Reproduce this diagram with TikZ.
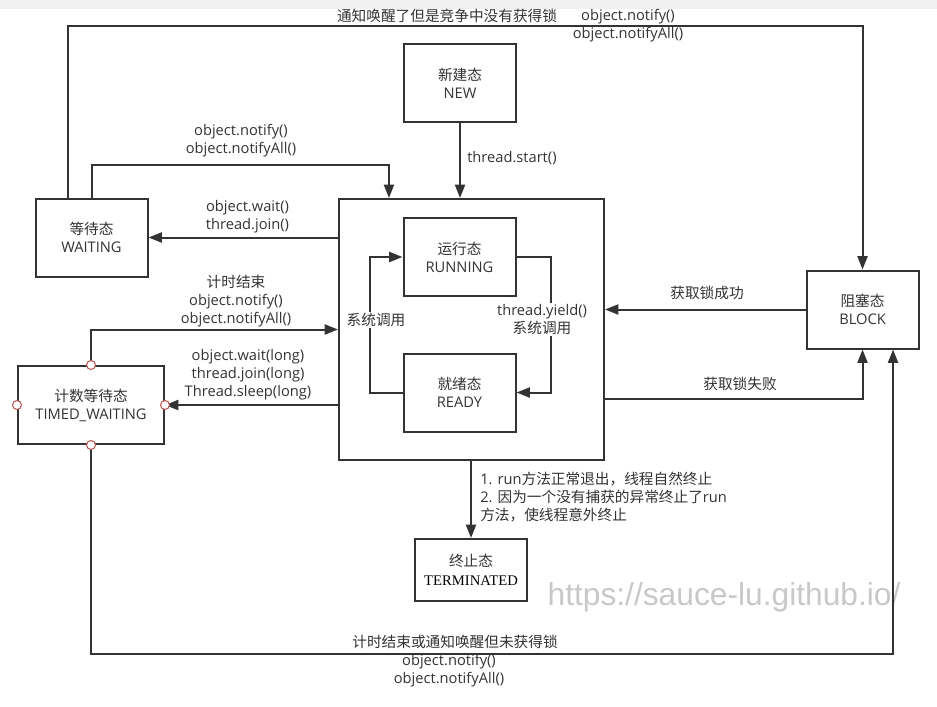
\documentclass[tikz,border=0pt]{standalone}
\usepackage{fontspec}
\setmainfont{Open Sans}
\newfontfamily\cjkfont{Noto Sans CJK SC}
\newfontfamily\termfont{Liberation Serif}
\newfontfamily\markfont{Liberation Sans}
\usetikzlibrary{arrows.meta}
\newcommand{\zh}[1]{{\cjkfont #1}}
\definecolor{linegray}{HTML}{333333}
\definecolor{textgray}{HTML}{333333}
\definecolor{portred}{HTML}{B85450}
\definecolor{bandgray}{HTML}{F0F0F0}
\definecolor{markgray}{HTML}{C8C8C8}
\tikzset{
  state/.style={draw=linegray, line width=1.5pt, fill=white, align=center,
    text=textgray, minimum width=84pt, minimum height=58.5pt, inner sep=0pt,
    font=\fontsize{11}{13.5}\selectfont},
  flow/.style={draw=linegray, line width=1.5pt, -{Triangle[length=10pt,width=7.5pt]}},
  lbl/.style={text=textgray, align=center, inner sep=0pt,
    font=\fontsize{11}{13.5}\selectfont},
  port/.style={circle, draw=portred, fill=white, line width=0.75pt,
    minimum size=6.75pt, inner sep=0pt},
}

\begin{document}
\begin{tikzpicture}[x=0.75pt,y=-0.75pt]
    \useasboundingbox (0,0) rectangle (937,706);
    \fill[bandgray] (0,0) rectangle (937,9);

    \node[state, minimum width=198.75pt, minimum height=195.75pt] (runnable) at (471.5,329.5) {};
    \node[state] (new) at (460,83) {\zh{新建态}\\NEW};
    \node[state] (running) at (459.5,257) {\zh{运行态}\\RUNNING};
    \node[state] (ready) at (459.5,392.5) {\zh{就绪态}\\READY};
    \node[state] (waiting) at (91.5,237.5) {\zh{等待态}\\WAITING};
    \node[state, minimum width=109.5pt] (timed) at (91,405) {\zh{计数等待态}\\TIMED\_WAITING};
    \node[state] (block) at (862.5,309.5) {\zh{阻塞态}\\BLOCK};
    \node[state, minimum height=46.5pt] (terminated) at (471,570) {\zh{终止态}\\[1pt]{\termfont\color{black} TERMINATED}};

    \node[markgray, inner sep=0pt, font=\markfont\fontsize{23.8}{28}\selectfont] (watermark) at (724,597) {https://sauce-lu.github.io/};

    \draw[flow] ([xshift=24.75pt]waiting.north west) -- ++(0,-171) -| (block.north);
    \draw[flow] (waiting.north) -- ++(0,-33) -| ([xshift=-61.9pt]runnable.north);
    \draw[flow] (new) -- (new |- runnable.north);
    \draw[flow] (waiting.east -| runnable.west) -- (waiting);
    \draw[flow] (timed.north) |- (runnable.west);
    \draw[flow] (timed.east -| runnable.west) -- (timed);
    \draw[flow] (timed.south) -- ++(0,209) -| ([xshift=22.9pt]block.south);
    \draw[flow] (block) -- (block -| runnable.east);
    \draw[flow] ([yshift=-52.1pt]runnable.east) -| (block.south);
    \draw[flow] (running.east) -- ++(34,0) |- (ready.east);
    \draw[flow] (ready.west) -- ++(-33,0) |- (running.west);
    \draw[flow] (runnable.south -| terminated.north) -- (terminated.north);

    \foreach \side in {north,south,east,west}
      \node[port] (timed-\side) at (timed.\side) {};

    \node[lbl] (topnote) at (447,16) {\zh{通知唤醒了但是竞争中没有获得锁}};
    \node[lbl] (topcall) at (628,26) {object.notify()\\object.notifyAll()};
    \node[lbl] (wakecall) at (241,141) {object.notify()\\object.notifyAll()};
    \node[lbl, anchor=west] (startcall) at (467,158) {thread.start()};
    \node[lbl] (waitcall) at (247.5,216.5) {object.wait()\\thread.join()};
    \node[lbl] (timeout) at (236,301) {\zh{计时结束}\\object.notify()\\object.notifyAll()};
    \node[lbl] (sleepcall) at (248,375) {object.wait(long)\\thread.join(long)\\Thread.sleep(long)};
    \node[lbl] (lockok) at (707,293) {\zh{获取锁成功}};
    \node[lbl] (lockfail) at (740,384) {\zh{获取锁失败}};
    \node[lbl, fill=white, inner sep=1pt] (yieldcall) at (542,319.5) {thread.yield()\\\zh{系统调用}};
    \node[lbl, fill=white, inner sep=1pt] (dispatch) at (376,320) {\zh{系统调用}};
    \node[lbl, anchor=west, align=left] (endnote) at (480,497.5) {1. run\zh{方法正常退出，线程自然终止}\\2. \zh{因为一个没有捕获的异常终止了}run\\\zh{方法，使线程意外终止}};
    \node[lbl] (bottomnote) at (455,642) {\zh{计时结束或通知唤醒但未获得锁}};
    \node[lbl] (bottomcall) at (449,671) {object.notify()\\object.notifyAll()};
\end{tikzpicture}
\end{document}
